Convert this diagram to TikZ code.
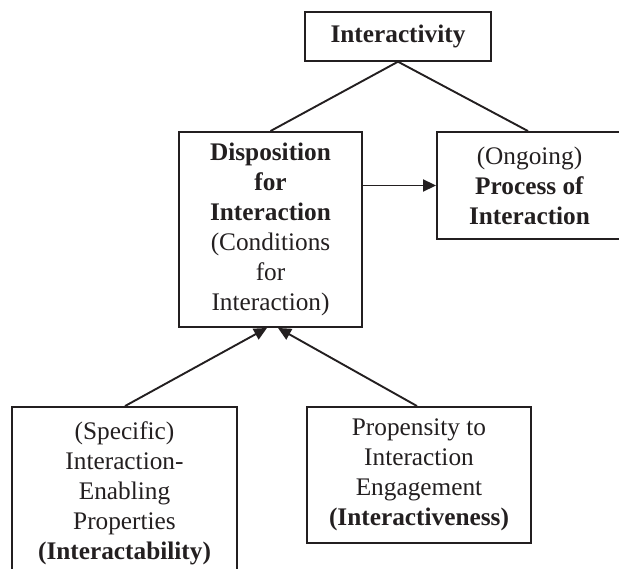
\documentclass[tikz,border=0pt]{standalone}
\usepackage{fontspec}
\setmainfont{Liberation Serif}
\usetikzlibrary{arrows.meta,calc}
\definecolor{ink}{HTML}{231F20}
\begin{document}
\begin{tikzpicture}[x=1pt,y=-1pt,
  box/.style={draw=ink,line width=1.9pt,text=ink,align=center,inner sep=0pt,
    font=\fontsize{25.3}{30}\selectfont},
  link/.style={draw=ink,line width=1.9pt},
  arr/.style={link,-{Triangle[length=13pt,width=12pt]}}]
\useasboundingbox (0,0) rectangle (619,569);
\node[box,minimum width=186pt,minimum height=48.5pt] (top) at (398,36.5) {\textbf{Interactivity}};
\node[box,minimum width=183pt,minimum height=195pt] (mid) at (270.5,229.5)
  {\textbf{Disposition}\\\textbf{for}\\\textbf{Interaction}\\(Conditions\\for\\Interaction)};
\node[box,minimum width=185pt,minimum height=107pt] (proc) at (529.5,185.5)
  {(Ongoing)\\\textbf{Process of}\\\textbf{Interaction}};
\node[box,minimum width=225pt,minimum height=172pt] (left) at (124.5,493)
  {(Specific)\\Interaction-\\Enabling\\Properties\\\textbf{(Interactability)}};
\node[box,minimum width=224pt,minimum height=136pt] (right) at (419,475)
  {Propensity to\\Interaction\\Engagement\\\textbf{(Interactiveness)}};
\draw[link] (top.south) -- (mid.north);
\draw[link] (top.south) -- ([xshift=-1.5pt]proc.north);
\draw[arr] (mid.east |- proc.west) -- (proc.west);
\draw[arr] ([xshift=0.5pt]left.north) -- ($(mid.south)+(-3.5,0)$);
\draw[arr] ([xshift=-2pt]right.north) -- ($(mid.south)+(7.5,0)$);
\end{tikzpicture}
\end{document}
